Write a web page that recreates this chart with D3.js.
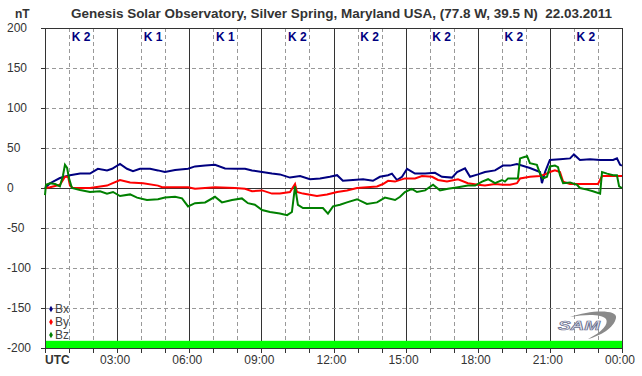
<!DOCTYPE html>
<html>
<head>
<meta charset="utf-8">
<script src="https://cdn.jsdelivr.net/npm/d3@7"></script>
<style>
  body { margin: 0; background: #fff; }
  svg { display: block; font-family: Arial, "Liberation Sans", sans-serif; }
</style>
</head>
<body>
<svg id="chart"></svg>
<script>
// [hour UTC, nT]
const bx = [
    [0.00, 0], [0.21, 6], [0.62, 12.5], [1.04, 16], [1.46, 18], [1.87, 18], [2.20, 24], [2.58, 22],
    [2.79, 24], [3.12, 30], [3.41, 24], [3.66, 21], [3.95, 24], [4.37, 24], [4.70, 22], [4.99, 20],
    [5.41, 22.5], [5.95, 24], [6.24, 27], [6.66, 28], [7.07, 29], [7.49, 24.5], [7.90, 24], [8.32, 24],
    [8.61, 22], [9.03, 20], [9.44, 18], [9.77, 17], [10.19, 13], [10.61, 15], [11.02, 11], [11.44, 12],
    [11.85, 14], [12.15, 16], [12.39, 9], [12.81, 10], [13.23, 11], [13.64, 9], [13.93, 14], [14.27, 16],
    [14.43, 18], [14.64, 10], [14.85, 14], [15.06, 24], [15.39, 18], [15.81, 18], [16.22, 19], [16.51, 14],
    [16.93, 13], [17.14, 20], [17.47, 24.5], [17.68, 14], [18.01, 17], [18.30, 20], [18.72, 22], [19.05, 28],
    [19.34, 28], [19.63, 30], [20.17, 25], [20.59, 20], [20.67, 6], [20.80, 20], [21.00, 35], [21.42, 36],
    [21.84, 37], [22.00, 42], [22.25, 35], [22.67, 36], [23.09, 35], [23.63, 35], [23.79, 37], [23.92, 29],
    [24.00, 28]
];
const by = [
    [0.00, 0], [0.21, 1], [0.62, 4], [0.83, 14], [0.96, 14], [1.04, 3], [1.16, 0], [1.87, 0],
    [2.58, 3], [3.12, 10], [3.54, 7], [4.08, 6], [4.70, 3], [4.87, 1], [5.95, 1], [6.24, -1],
    [7.07, 1], [7.90, 0], [8.32, -1], [8.61, -4], [9.03, -3], [9.44, -7], [9.77, -7], [10.19, -5],
    [10.40, 5], [10.48, -5], [10.73, -7], [11.31, -10], [11.73, -8], [12.15, -5], [12.56, -3], [12.98, 0],
    [13.39, 1], [13.81, 2], [14.06, 5], [14.27, 9], [14.56, 8], [14.97, 12], [15.39, 12], [15.68, 15],
    [16.10, 14], [16.35, 10], [16.72, 8], [17.18, 11], [17.59, 6], [18.01, 4], [18.30, 3], [18.72, 5],
    [19.05, 4], [19.34, 4], [19.63, 6], [19.76, 12], [20.17, 14], [20.59, 15], [20.80, 17], [21.00, 20],
    [21.21, 22], [21.42, 20], [21.55, 8], [21.84, 5], [22.25, 5], [22.67, 5], [23.00, 5], [23.17, 15],
    [23.50, 15], [24.00, 15]
];
const bz = [
    [0.00, -9], [0.04, 4], [0.21, 6], [0.42, 5], [0.62, 2], [0.75, 16], [0.83, 29], [0.92, 25],
    [1.00, 12], [1.12, 0], [1.46, -2.5], [1.87, -5], [2.29, -4], [2.58, -7], [2.83, -5], [3.12, -10],
    [3.54, -8], [3.83, -12], [4.24, -15], [4.70, -14], [4.99, -12], [5.41, -11], [5.70, -13], [5.95, -23],
    [6.24, -19], [6.66, -18], [7.07, -11], [7.36, -18], [7.78, -15], [8.19, -13], [8.44, -19], [8.73, -21],
    [9.03, -27.5], [9.36, -30], [9.77, -32], [10.07, -34], [10.27, -30], [10.40, 2], [10.52, -21], [10.73, -25],
    [11.15, -25], [11.56, -25], [11.77, -32], [11.98, -23], [12.27, -21], [12.56, -18], [12.98, -14], [13.39, -20],
    [13.81, -18], [14.14, -12], [14.56, -15], [14.77, -11], [14.97, -5], [15.26, -1], [15.47, -5], [15.81, -3],
    [16.14, 4], [16.43, -3], [16.76, -1], [17.18, 1], [17.59, 3], [17.89, 3], [18.18, 8], [18.43, 11],
    [18.72, 6], [19.01, 10], [19.13, 8], [19.26, 12], [19.67, 12], [19.76, 37], [19.97, 39], [20.05, 40],
    [20.17, 31], [20.46, 29], [20.59, 18], [20.71, 12], [20.88, 14], [21.00, 27], [21.21, 28], [21.34, 26],
    [21.42, 16], [21.55, 6], [21.84, 7], [22.13, 4], [22.25, 0], [22.54, -2], [22.79, -4], [23.09, -7],
    [23.17, 20], [23.38, 18], [23.63, 16], [23.79, 16], [23.88, 2], [24.00, 0]
];

const seriesNames = ['Bx', 'By', 'Bz'];
const seriesColors = ['#000080', '#ff0000', '#008000'];
const kIndex = ['K 2', 'K 1', 'K 1', 'K 2', 'K 2', 'K 2', 'K 2', 'K 2'];
const yTicks = [-200, -150, -100, -50, 0, 50, 100, 150, 200];
const xTickLabels = ['UTC', '03:00', '06:00', '09:00', '12:00', '15:00', '18:00', '21:00', '00:00'];
const title = 'Genesis Solar Observatory, Silver Spring, Maryland USA, (77.8 W, 39.5 N)  22.03.2011';

class MagChart {
    constructor (config, data) {
        this.config = {
            parent: config.parent,
            width: config.width || 642,
            height: config.height || 376,
            margin: config.margin || {top:28, right:20, bottom:28, left:45}
        };
        this.data = data;
        this.init();
    }

    init() {
        let self = this;

        self.svg = d3.select(self.config.parent)
            .attr('width', self.config.width)
            .attr('height', self.config.height);

        self.inner_width = self.config.width - self.config.margin.left - self.config.margin.right;
        self.inner_height = self.config.height - self.config.margin.top - self.config.margin.bottom;

        self.chart = self.svg.append('g')
            .attr('transform', `translate(${self.config.margin.left}, ${self.config.margin.top})`);

        self.xscale = d3.scaleLinear()
            .domain([0, 24])
            .range([0, self.inner_width]);

        self.yscale = d3.scaleLinear()
            .domain([-200, 200])
            .range([self.inner_height, 0]);
    }

    render() {
        let self = this;
        const x = self.xscale, y = self.yscale;

        // hourly grid, solid every 3 h
        self.chart.selectAll('.vgrid')
            .data(d3.range(1, 24))
            .join('line')
            .attr('class', 'vgrid')
            .attr('x1', d => Math.round(x(d)) + 0.5)
            .attr('x2', d => Math.round(x(d)) + 0.5)
            .attr('y1', 0)
            .attr('y2', self.inner_height)
            .attr('stroke', d => d % 3 === 0 ? '#333' : '#999')
            .attr('stroke-dasharray', d => d % 3 === 0 ? null : '4,3');

        self.chart.selectAll('.hgrid')
            .data(yTicks.filter(d => d > -200 && d < 200))
            .join('line')
            .attr('class', 'hgrid')
            .attr('x1', 0)
            .attr('x2', self.inner_width)
            .attr('y1', d => Math.round(y(d)) + 0.5)
            .attr('y2', d => Math.round(y(d)) + 0.5)
            .attr('stroke', d => d === 0 ? '#333' : '#999')
            .attr('stroke-dasharray', d => d === 0 ? null : '4,3');

        // green status bar
        self.chart.append('rect')
            .attr('x', 0)
            .attr('y', y(-191))
            .attr('width', self.inner_width)
            .attr('height', y(-200) - y(-191))
            .attr('fill', '#00ff00');

        // frame
        self.chart.append('rect')
            .attr('x', 0.5)
            .attr('y', 0.5)
            .attr('width', self.inner_width)
            .attr('height', self.inner_height)
            .attr('fill', 'none')
            .attr('stroke', '#333');

        // y ticks and labels
        self.chart.selectAll('.ytick')
            .data(yTicks)
            .join('line')
            .attr('class', 'ytick')
            .attr('x1', -4).attr('x2', 0)
            .attr('y1', d => Math.round(y(d)) + 0.5)
            .attr('y2', d => Math.round(y(d)) + 0.5)
            .attr('stroke', '#333');

        self.svg.selectAll('.ylabel')
            .data(yTicks)
            .join('text')
            .attr('class', 'ylabel')
            .attr('x', 7)
            .attr('y', d => self.config.margin.top + y(d) + 4)
            .attr('font-size', '12px')
            .attr('fill', '#333')
            .text(d => d);

        // x ticks and labels
        self.chart.selectAll('.xtick')
            .data(d3.range(0, 25))
            .join('line')
            .attr('class', 'xtick')
            .attr('x1', d => Math.round(x(d)) + 0.5)
            .attr('x2', d => Math.round(x(d)) + 0.5)
            .attr('y1', self.inner_height)
            .attr('y2', self.inner_height + 5)
            .attr('stroke', '#333');

        self.chart.selectAll('.xlabel')
            .data(xTickLabels)
            .join('text')
            .attr('class', 'xlabel')
            .attr('x', (d, i) => i === 0 ? 0 : x(i * 3) - 2)
            .attr('y', self.inner_height + 16)
            .attr('text-anchor', (d, i) => i === 0 ? 'start' : 'middle')
            .attr('font-size', '12px')
            .attr('font-weight', (d, i) => i === 0 ? 'bold' : 'normal')
            .attr('fill', '#333')
            .text(d => d);

        // K index labels
        self.chart.selectAll('.klabel')
            .data(kIndex)
            .join('text')
            .attr('class', 'klabel')
            .attr('x', (d, i) => x(i * 3 + 1.5))
            .attr('y', 13)
            .attr('text-anchor', 'middle')
            .attr('font-size', '12px')
            .attr('font-weight', 'bold')
            .attr('fill', '#000080')
            .text(d => d);

        // title and unit
        self.svg.append('text')
            .attr('x', 71)
            .attr('y', 18)
            .attr('font-size', '12px')
            .attr('font-weight', 'bold')
            .attr('fill', '#333')
            .attr('textLength', 541)
            .attr('lengthAdjust', 'spacingAndGlyphs')
            .style('white-space', 'pre')
            .text(title);

        self.svg.append('text')
            .attr('x', 15)
            .attr('y', 18)
            .attr('font-size', '12px')
            .attr('font-weight', 'bold')
            .attr('fill', '#333')
            .text('nT');

        // series
        const line = d3.line()
            .x(d => x(d[0]))
            .y(d => y(d[1]));

        self.chart.selectAll('.series')
            .data(self.data)
            .join('path')
            .attr('class', 'series')
            .attr('d', d => line(d))
            .attr('fill', 'none')
            .attr('stroke', (d, i) => seriesColors[i])
            .attr('stroke-width', 2)
            .attr('stroke-linejoin', 'miter');

        // legend
        const legend = self.chart.selectAll('.legend')
            .data(seriesNames)
            .join('g')
            .attr('class', 'legend')
            .attr('transform', (d, i) => `translate(6, ${y(-150) + 1 + i * 13})`);

        legend.append('path')
            .attr('d', d3.symbol(d3.symbolDiamond, 12))
            .attr('fill', (d, i) => seriesColors[i]);

        legend.append('text')
            .attr('x', 4)
            .attr('y', 4)
            .attr('font-size', '12px')
            .attr('fill', '#444')
            .text(d => d);

        // SAM logo
        const logo = self.svg.append('g')
            .attr('transform', 'translate(556, 312)');

        logo.append('path')
            .attr('d', 'M14,5 C34,-2 62,-3 60,6 C58,16 44,24 32,27 C46,20 53,12 50,7 C46,2 30,2 14,5 Z')
            .attr('fill', '#8a8a8a');

        logo.append('text')
            .attr('x', 2)
            .attr('y', 18)
            .attr('font-size', '13px')
            .attr('font-style', 'italic')
            .attr('font-weight', 'bold')
            .attr('fill', '#e8e8ee')
            .attr('stroke', '#6a7090')
            .attr('stroke-width', 0.7)
            .attr('textLength', 42)
            .attr('lengthAdjust', 'spacingAndGlyphs')
            .text('SAM');
    }
}

const chart = new MagChart({ parent: '#chart' }, [bx, by, bz]);
chart.render();
</script>
</body>
</html>
